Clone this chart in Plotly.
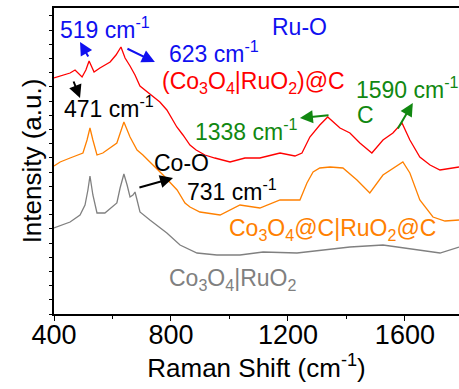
import plotly.graph_objects as go

# Raman shift (cm-1) and intensities (a.u.)
red_x = [400, 431, 455, 472, 496, 509, 520, 537, 557, 592, 612, 629, 643, 660, 677, 694, 711, 721, 735,
         762, 786, 820, 841, 865, 886, 916, 950, 1002, 1053, 1104, 1173, 1224, 1248, 1275, 1309, 1336,
         1378, 1412, 1446, 1487, 1525, 1559, 1590, 1617, 1651, 1686, 1720, 1785]
red_y = [236, 239, 241, 244, 237, 244, 253, 242, 246, 252, 259, 267, 256, 248, 239, 228, 224, 222, 219,
         212, 204, 187, 179, 169, 164, 159, 156, 152, 156, 156, 161, 158, 161, 177, 189, 197,
         186, 181, 171, 161, 174, 181, 191, 174, 157, 149, 144, 147]

orange_x = [400, 421, 455, 499, 513, 523, 533, 547, 567, 592, 615, 639, 660, 684, 704, 728, 773, 821,
            848, 865, 899, 968, 1036, 1104, 1173, 1241, 1265, 1286, 1309, 1344, 1388, 1436, 1480,
            1525, 1566, 1593, 1617, 1651, 1696, 1737, 1785]
orange_y = [148, 152, 156, 161, 174, 186, 174, 159, 161, 166, 171, 192, 177, 164, 159, 152, 139, 124,
            111, 107, 102, 99, 109, 106, 114, 114, 131, 142, 146, 147, 146, 134, 121,
            139, 147, 152, 141, 114, 97, 93, 94]

gray_x = [400, 455, 489, 506, 516, 523, 533, 547, 574, 615, 626, 639, 650, 660, 670, 677, 684, 694,
          728, 786, 831, 889, 957, 1036, 1115, 1231, 1412, 1525, 1720, 1785]
gray_y = [86, 92, 99, 109, 124, 138, 119, 101, 101, 111, 126, 140, 129, 117, 119, 122, 114, 102,
          94, 81, 69, 61, 59, 59, 62, 61, 67, 69, 61, 67]

x_ticks = [400, 800, 1200, 1600]

FONT = "Liberation Sans, Arial, sans-serif"
RED, ORANGE, GRAY = "#FF0000", "#FF8000", "#808080"
BLUE, GREEN, BLACK = "#1010F0", "#118811", "#000000"

fig = go.Figure()
fig.add_trace(go.Scatter(x=red_x, y=red_y, mode="lines", line=dict(color=RED, width=1.3)))
fig.add_trace(go.Scatter(x=orange_x, y=orange_y, mode="lines", line=dict(color=ORANGE, width=1.3)))
fig.add_trace(go.Scatter(x=gray_x, y=gray_y, mode="lines", line=dict(color=GRAY, width=1.3)))

# text labels: (text, x, y, color)
labels = [
    ("519 cm<sup>-1</sup>", 414, 286, BLUE),
    ("623 cm<sup>-1</sup>", 786, 262, BLUE),
    ("Ru-O", 1138, 287, BLUE),
    ("(Co<sub>3</sub>O<sub>4</sub>|RuO<sub>2</sub>)@C", 762, 232, RED),
    ("471 cm<sup>-1</sup>", 427, 207, BLACK),
    ("1338 cm<sup>-1</sup>", 875, 184, GREEN),
    ("C", 1429, 199, GREEN),
    ("1590 cm<sup>-1</sup>", 1426, 226, GREEN),
    ("Co-O", 735, 151, BLACK),
    ("731 cm<sup>-1</sup>", 848, 124, BLACK),
    ("Co<sub>3</sub>O<sub>4</sub>@C|RuO<sub>2</sub>@C", 991, 85, ORANGE),
    ("Co<sub>3</sub>O<sub>4</sub>|RuO<sub>2</sub>", 786, 35, GRAY),
]
for t, x, y, c in labels:
    fig.add_annotation(x=x, y=y, text=t, showarrow=False, xanchor="left", yanchor="middle",
                       font=dict(family=FONT, size=23, color=c))

# arrows: (head x, head y, tail x, tail y, color)
arrows = [
    (489, 272, 520, 256, BLUE),
    (745, 252, 646, 266, BLUE),
    (489, 216, 465, 234, BLACK),
    (1241, 196, 1344, 199, GREEN),
    (1627, 211, 1573, 184, GREEN),
    (807, 136, 687, 126, BLACK),
]
for hx, hy, tx, ty, c in arrows:
    fig.add_annotation(x=hx, y=hy, ax=tx, ay=ty, xref="x", yref="y", axref="x", ayref="y",
                       text="", showarrow=True, arrowhead=2, arrowsize=1.3, arrowwidth=2,
                       arrowcolor=c)

fig.update_layout(
    width=459, height=389,
    margin=dict(l=54, r=0, t=8, b=75),
    paper_bgcolor="white", plot_bgcolor="white",
    showlegend=False,
    font=dict(family=FONT, color="black"),
    xaxis=dict(
        range=[400, 1785], tickvals=x_ticks, ticktext=[str(v) for v in x_ticks],
        ticks="outside", ticklen=5, tickwidth=1.2, tickcolor="black",
        minor=dict(ticks="outside", ticklen=3, dtick=200, tick0=400, tickcolor="black", tickwidth=1.2),
        showline=True, linecolor="black", linewidth=1.5, mirror=True,
        showgrid=False, zeroline=False,
        tickfont=dict(family=FONT, size=27),
        ticklabelstandoff=-9,
        title=dict(text="Raman Shift (cm<sup>-1</sup>)", font=dict(family=FONT, size=26), standoff=0),
    ),
    yaxis=dict(
        range=[0, 306], tick0=0, dtick=14.2,
        ticks="outside", ticklen=3, tickwidth=1, tickcolor="black",
        showticklabels=False,
        showline=True, linecolor="black", linewidth=1.5,
        showgrid=False, zeroline=False,
        title=dict(text="Intensity (a.u.)", font=dict(family=FONT, size=26), standoff=0),
    ),
)

fig.write_html("out.html")
